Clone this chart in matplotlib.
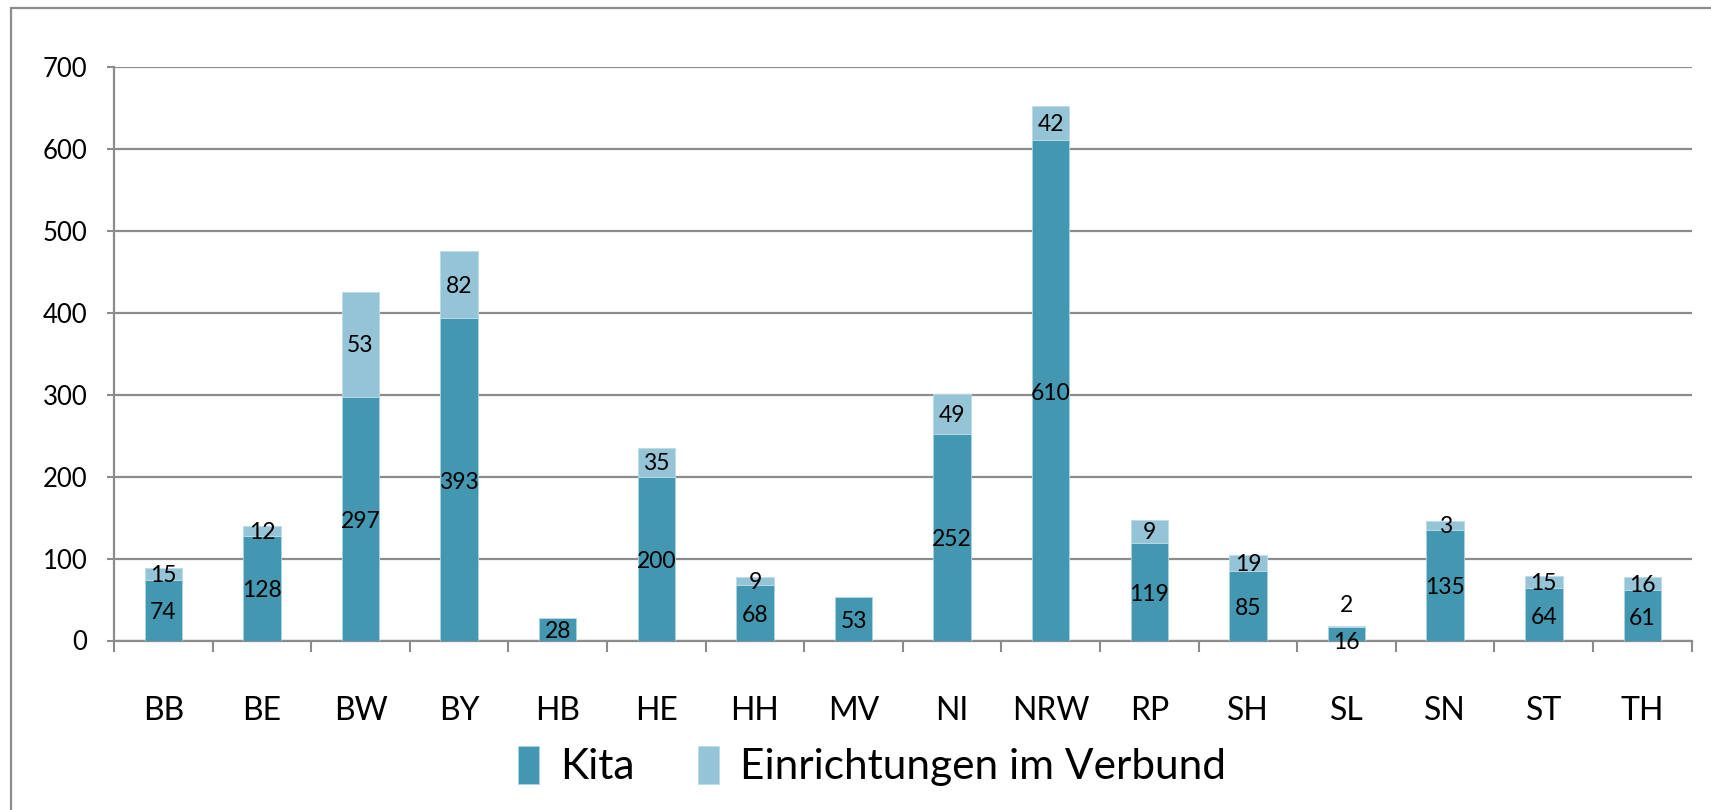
import numpy as np
import matplotlib.pyplot as plt
from matplotlib.patches import Rectangle

plt.rcParams['font.family'] = ['Lato', 'DejaVu Sans']

laender = ['BB', 'BE', 'BW', 'BY', 'HB', 'HE', 'HH', 'MV',
           'NI', 'NRW', 'RP', 'SH', 'SL', 'SN', 'ST', 'TH']
kita = [74, 128, 297, 393, 28, 200, 68, 53, 252, 610, 119, 85, 16, 135, 64, 61]
# bar heights as drawn in the original; its labels don't always match
verbund = [15, 12, 128, 82, 0, 35, 9, 0, 49, 42, 28, 19, 2, 11, 15, 16]
verbund_labels = ['15', '12', '53', '82', '', '35', '9', '', '49', '42',
                  '9', '19', '2', '3', '15', '16']

c_kita = '#4397b0'
c_verbund = '#94c4d6'
grey = '#8c8c8c'

fig = plt.figure(figsize=(17.11, 8.10), dpi=100)
ax = fig.add_axes([114/1711, 1 - 640.5/810, (1691.7 - 114)/1711, (640.5 - 66.7)/810])

x = np.arange(len(laender))
w = 0.38
b1 = ax.bar(x, kita, w, color=c_kita, edgecolor='#a9d3e0', linewidth=0.6, label='Kita', zorder=3)
b2 = ax.bar(x, verbund, w, bottom=kita, color=c_verbund, edgecolor='#b9dce8', linewidth=0.6,
            label='Einrichtungen im Verbund', zorder=3)

# label positions: center of each segment, SL pushed apart like in the original
for i in range(len(laender)):
    dk = -4 if laender[i] == 'SL' else 0
    dv = 16 if laender[i] == 'SL' else 0
    ax.annotate(str(kita[i]), (x[i], kita[i] / 2), xytext=(0, dk - 2), textcoords='offset points',
                ha='center', va='center', fontsize=16.5, color='black', zorder=4)
    if verbund_labels[i]:
        ax.annotate(verbund_labels[i], (x[i], kita[i] + verbund[i] / 2), xytext=(0, dv - 1),
                    textcoords='offset points', ha='center', va='center', fontsize=16.5,
                    color='black', zorder=4)

ax.set_xlim(-0.5, len(laender) - 0.5)
ax.set_ylim(0, 700)
ax.set_yticks(np.arange(0, 701, 100))
ax.set_xticks(x)
ax.set_xticklabels(laender)
ax.set_xticks(np.arange(-0.5, len(laender)), minor=True)
ax.tick_params(axis='x', which='major', length=0, pad=40, labelsize=23)
ax.tick_params(axis='x', which='minor', length=8, width=1.5, color=grey, direction='out')
ax.tick_params(axis='y', length=5, width=1.5, color=grey, pad=14, labelsize=18.5)

ax.grid(axis='y', color=grey, linewidth=1.6, zorder=0)
ax.set_axisbelow(True)
for s in ['top', 'right']:
    ax.spines[s].set_visible(False)
for s in ['left', 'bottom']:
    ax.spines[s].set_color(grey)
    ax.spines[s].set_linewidth(1.6)

fig.legend(handles=[b1, b2], loc='center', bbox_to_anchor=(872/1711, 1 - 766/810), ncol=2,
           frameon=False, fontsize=30.5, handlelength=0.5, handleheight=1.0,
           handletextpad=0.5, columnspacing=1.5)

fig.add_artist(Rectangle((11/1711, -0.05), 1.0, 1 - 8/810 + 0.05, transform=fig.transFigure,
                         fill=False, edgecolor=grey, linewidth=1.6))

fig.savefig('out.png', dpi=100)
